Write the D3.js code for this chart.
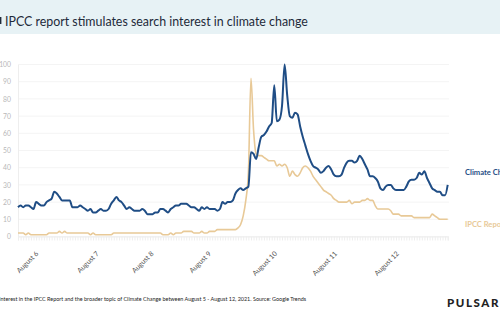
<!DOCTYPE html>
<html><head><meta charset="utf-8">
<script src="https://cdn.jsdelivr.net/npm/d3@7"></script>
<style>
html,body{margin:0;padding:0;background:#fff;}
svg{display:block;font-family:Lato,"Open Sans",sans-serif;}
</style></head>
<body>
<svg id="c" width="500" height="330"></svg>
<script>
// ---- data (hourly Google Trends index, Aug 5 - Aug 12, 2021) ----
const climateChange = [
17,18,17,18,18,17,16,20,19,18, 18,20,21,22,26,25,23,21,21,21,
21,17,17,17,18,17,16,15,16,14, 14,15,16,15,15,16,19,21,23,21,
20,18,16,17,16,15,15,15,16,15, 13,13,13,14,14,16,16,15,14,16,
17,18,18,19,19,19,18,17,17,16, 15,17,16,17,16,16,16,15,16,20,
19,20,20,21,25,27,28,27,28,29, 49,48,45,52,58,59,61,64,66,88,
67,68,76,100,82,70,69,72,71,64, 58,53,48,44,41,40,39,37,38,40,
41,39,36,35,35,36,40,43,44,44, 43,44,47,45,42,39,35,35,34,32,
28,27,29,30,30,28,27,27,27,27, 29,32,33,33,34,37,36,38,34,31,
28,27,26,26,24,24,30
];
const ipccReport = [
2,2,2,1,2,1,1,1,1,1, 1,1,2,2,2,2,3,2,3,2,
2,2,2,2,2,2,2,2,1,2, 1,1,1,1,1,1,1,2,2,2,
2,2,2,2,2,2,2,2,2,2, 2,2,2,2,2,2,1,1,1,2,
1,2,2,2,3,3,3,3,2,2, 2,3,2,2,3,3,3,4,4,4,
4,4,4,4,4,5,7,12,21,37, 92,62,48,47,47,46,45,44,44,44,
41,42,41,42,40,35,38,36,35,37, 40,41,40,38,35,33,31,29,27,26,
25,24,22,21,20,20,20,20,21,19, 20,20,20,21,21,22,21,21,18,16,
16,16,16,16,15,13,13,13,12,12, 12,12,12,11,11,11,11,11,11,11,
13,12,11,10,10,10,10
];
const yTicks = [0,10,20,30,40,50,60,70,80,90,100];
const dayLabels = ["August 6","August 7","August 8","August 9","August 10","August 11","August 12"];
const dayLabelIdx = [7.5,30.9,52.0,74.2,99.7,122.9,146.8];
const seriesNames = ["Climate Change","IPCC Report"];
const title = "IPCC report stimulates search interest in climate change";
const footnote = "Interest in the IPCC Report and the broader topic of Climate Change between August 5 - August 12, 2021. Source: Google Trends";

// ---- drawing ----
const svg = d3.select("#c");
const blue = "#1f4d85", beige = "#e8c997";

svg.append("rect").attr("x",0).attr("y",0).attr("width",500).attr("height",34).attr("fill","#e7f2f5");
svg.append("rect").attr("x",0).attr("y",17).attr("width",1.4).attr("height",7).attr("fill","#1e2a3a");
svg.append("text").attr("x",5).attr("y",26).attr("font-size",12.4).attr("fill","#1e2a3a").text(title);

const n = climateChange.length;
const x = d3.scaleLinear().domain([0,n-1]).range([18,447.7]);
const y = d3.scaleLinear().domain([0,100]).range([236.5,64.5]);

// gridlines
svg.append("g").selectAll("line").data(yTicks).join("line")
  .attr("x1",18).attr("x2",449).attr("y1",d=>y(d)).attr("y2",d=>y(d))
  .attr("stroke","#f4f4f4").attr("stroke-width",1);

// y axis
const ya = svg.append("g").attr("transform","translate(18,0)")
  .call(d3.axisLeft(y).tickValues(yTicks).tickSize(0).tickPadding(7));
ya.select(".domain").attr("stroke","#eeeeee");
ya.selectAll("text").attr("fill","#b8b8b8").attr("font-size",6.8).attr("font-family","Lato,sans-serif");

// x axis minor ticks
const xa = svg.append("g").attr("transform",`translate(0,${y(0)})`)
  .call(d3.axisBottom(x).tickValues(d3.range(n)).tickSize(4).tickFormat(""));
xa.select(".domain").attr("stroke","#eeeeee");
xa.selectAll(".tick line").attr("stroke","#eeeeee");

// x labels
const xl = svg.append("g").attr("transform",`translate(1,254)`)
  .call(d3.axisBottom(x).tickValues(dayLabelIdx).tickSize(0).tickPadding(0)
    .tickFormat((d,i)=>dayLabels[i]));
xl.select(".domain").remove();
xl.selectAll("text").attr("y",0).attr("dy",0).attr("text-anchor","end")
  .attr("transform","rotate(-45)").attr("fill","#555").attr("font-size",7)
  .attr("font-family","Lato,sans-serif");

// lines
const line = d3.line().x((d,i)=>x(i)).y(d=>y(d)).curve(d3.curveMonotoneX);
svg.append("path").datum(ipccReport).attr("d",line).attr("fill","none")
  .attr("stroke",beige).attr("stroke-width",1.6);
svg.append("path").datum(climateChange).attr("d",line).attr("fill","none")
  .attr("stroke",blue).attr("stroke-width",2);

// legend labels (cut off at the right edge, as in the original)
svg.append("text").attr("x",465).attr("y",175).attr("font-size",7.6).attr("font-weight",700)
  .attr("fill",blue).text(seriesNames[0]);
svg.append("text").attr("x",465).attr("y",227).attr("font-size",7.6).attr("font-weight",700)
  .attr("fill",beige).text(seriesNames[1]);

// footer
svg.append("text").attr("x",-1).attr("y",301).attr("font-size",5.45).attr("fill","#222").text(footnote);
svg.append("text").attr("x",500).attr("y",307).attr("text-anchor","end").attr("font-size",11.5)
  .attr("font-weight",900).attr("letter-spacing",1.6).attr("fill","#222").text("PULSAR");
</script>
</body></html>
